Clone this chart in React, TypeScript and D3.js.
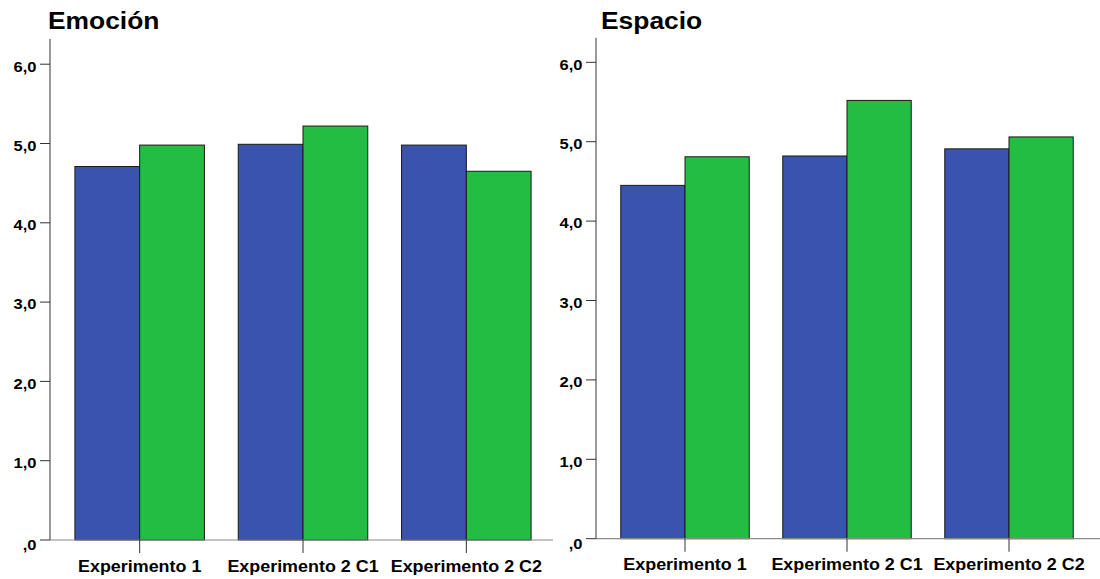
import React from "react";
import * as d3 from "d3";

const categories = ["Experimento 1", "Experimento 2 C1", "Experimento 2 C2"];
const seriesKeys = ["serie1", "serie2"];
const seriesColors = ["#3953AE", "#23BD44"];

const emocionSerie1 = [4.71, 4.99, 4.98];
const emocionSerie2 = [4.98, 5.22, 4.65];
const espacioSerie1 = [4.45, 4.82, 4.91];
const espacioSerie2 = [4.81, 5.52, 5.06];

const tickValues = [0, 1, 2, 3, 4, 5, 6];
const tickLabels = [",0", "1,0", "2,0", "3,0", "4,0", "5,0", "6,0"];

const panels = [
  {
    title: "Emoción",
    values: [emocionSerie1, emocionSerie2],
    axisX: 50,
    axisRight: 553,
    bandRange: [58, 548],
    zeroY: 540,
    topY: 39,
    unit: 79.3,
    titleX: 48,
  },
  {
    title: "Espacio",
    values: [espacioSerie1, espacioSerie2],
    axisX: 596,
    axisRight: 1100,
    bandRange: [604, 1090],
    zeroY: 538.7,
    topY: 37.7,
    unit: 79.4,
    titleX: 601,
  },
];

const FONT = "'Liberation Sans', Arial, Helvetica, sans-serif";

function StretchText({ x, y, size, sx, anchor, children, fill = "#000" }: any) {
  return (
    <text
      transform={`translate(${x},${y}) scale(${sx},1)`}
      fontFamily={FONT}
      fontWeight="bold"
      fontSize={size}
      textAnchor={anchor}
      fill={fill}
    >
      {children}
    </text>
  );
}

function Panel({ p }: any) {
  const yMax = (p.zeroY - p.topY) / p.unit;
  const y = d3.scaleLinear().domain([0, yMax]).range([p.zeroY, p.topY]);
  const x0 = d3
    .scaleBand()
    .domain(categories)
    .range(p.bandRange)
    .paddingInner(0.207)
    .paddingOuter(0.1035);
  const x1 = d3.scaleBand().domain(seriesKeys).range([0, x0.bandwidth()]).padding(0);

  return (
    <g>
      <StretchText x={p.titleX} y={28.5} size={24} sx={1.1} anchor="start">
        {p.title}
      </StretchText>

      {/* bars */}
      {categories.map((c, i) => (
        <g key={c} transform={`translate(${x0(c)},0)`}>
          {seriesKeys.map((s, k) => {
            const v = p.values[k][i];
            return (
              <rect
                key={s}
                x={x1(s)}
                y={y(v)}
                width={x1.bandwidth()}
                height={y(0) - y(v)}
                fill={seriesColors[k]}
                stroke="#1a1a1a"
                strokeWidth={1}
              />
            );
          })}
        </g>
      ))}

      {/* x axis */}
      <line x1={p.axisX} x2={p.axisRight} y1={p.zeroY} y2={p.zeroY} stroke="#8a8a8a" strokeWidth={1.2} />
      {categories.map((c) => {
        const cx = (x0(c) as number) + x0.bandwidth() / 2;
        return (
          <g key={c}>
            <line x1={cx} x2={cx} y1={p.zeroY} y2={p.zeroY + 13} stroke="#333" strokeWidth={1} />
            <StretchText x={cx} y={p.zeroY + 31.5} size={16} sx={1.12} anchor="middle">
              {c}
            </StretchText>
          </g>
        );
      })}

      {/* y axis */}
      <line x1={p.axisX} x2={p.axisX} y1={p.topY} y2={p.zeroY} stroke="#555" strokeWidth={1.2} />
      {tickValues.map((t, i) => (
        <g key={t}>
          <line x1={p.axisX - 10} x2={p.axisX} y1={y(t)} y2={y(t)} stroke="#333" strokeWidth={1} />
          <StretchText x={p.axisX - 13.5} y={y(t) + (t === 0 ? 10 : 7.3)} size={14} sx={1.18} anchor="end">
            {tickLabels[i]}
          </StretchText>
        </g>
      ))}
    </g>
  );
}

export default function App() {
  return (
    <svg
      width={1100}
      height={579}
      style={{ position: "absolute", left: 0, top: 0, background: "#fff" }}
    >
      <rect x={0} y={0} width={1100} height={579} fill="#fff" />
      {panels.map((p) => (
        <Panel key={p.title} p={p} />
      ))}
    </svg>
  );
}
